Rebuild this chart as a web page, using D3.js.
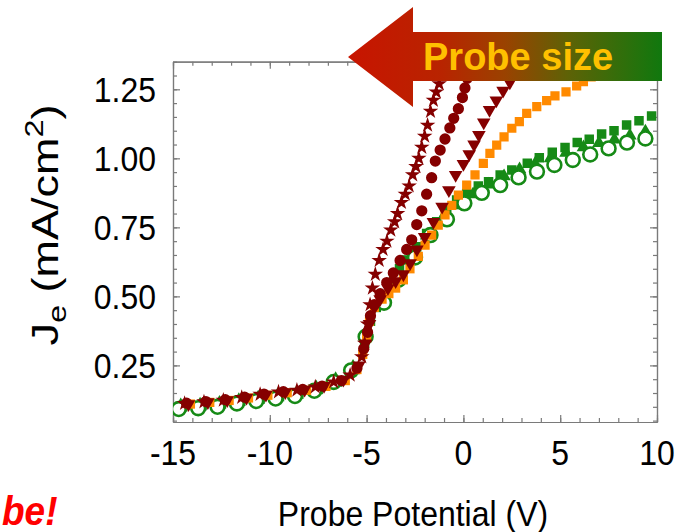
<!DOCTYPE html>
<html lang="en">
  <head>
    <meta charset="utf-8" />
    <title>Probe size</title>
    <script src="https://d3js.org/d3.v7.min.js"></script>
    <style>
      body {
        margin: 0;
        background: white;
      }
      text {
        font-family: "Liberation Sans", Arial, sans-serif;
      }
      .frame path,
      .frame line {
        stroke: #7a7a7a;
        stroke-width: 1.2;
      }
      .tick-label {
        font-size: 32px;
        fill: black;
      }
      .label {
        font-size: 32px;
        fill: black;
      }
    </style>
  </head>
  <body>
    <svg width="677" height="532"></svg>
    <script type="text/javascript">
      // [potential (V), current density (mA/cm2)]
      const stars = [
        [-14.4, 0.112], [-13.4, 0.118], [-12.4, 0.124], [-11.45, 0.134], [-10.5, 0.145],
        [-9.55, 0.154], [-8.6, 0.16], [-7.65, 0.172], [-6.7, 0.19], [-5.85, 0.215],
        [-5.25, 0.281], [-5.1, 0.33], [-4.95, 0.4], [-4.82, 0.47], [-4.7, 0.53],
        [-4.55, 0.58], [-4.35, 0.63], [-4.15, 0.67], [-3.95, 0.7], [-3.75, 0.74],
        [-3.55, 0.77], [-3.4, 0.8], [-3.2, 0.84], [-3.0, 0.87], [-2.8, 0.9],
        [-2.62, 0.94], [-2.45, 0.97], [-2.3, 1.0], [-2.15, 1.04], [-2.0, 1.08],
        [-1.85, 1.12], [-1.7, 1.17], [-1.55, 1.21], [-1.4, 1.24], [-1.25, 1.27],
        [-1.1, 1.31], [-0.95, 1.35]
      ];
      const hexagons = [
        [-14.3, 0.113], [-13.3, 0.119], [-12.3, 0.126], [-11.3, 0.135], [-10.3, 0.146],
        [-9.3, 0.155], [-8.3, 0.163], [-7.3, 0.175], [-6.3, 0.195], [-5.5, 0.24],
        [-5.15, 0.31], [-4.95, 0.37], [-4.8, 0.43], [-4.6, 0.47], [-4.3, 0.51],
        [-3.96, 0.55], [-3.62, 0.585], [-3.27, 0.63], [-2.93, 0.67], [-2.67, 0.705],
        [-2.41, 0.76], [-2.15, 0.81], [-1.9, 0.87], [-1.64, 0.93], [-1.45, 0.99],
        [-1.2, 1.03], [-0.95, 1.07], [-0.7, 1.11], [-0.5, 1.145], [-0.26, 1.18],
        [-0.05, 1.22], [0.08, 1.255], [0.2, 1.29], [0.3, 1.33]
      ];
      const downTriangles = [
        [-14.2, 0.11], [-13.2, 0.117], [-12.2, 0.124], [-11.2, 0.133], [-10.2, 0.144],
        [-9.2, 0.153], [-8.2, 0.162], [-7.2, 0.176], [-6.2, 0.198], [-5.4, 0.25],
        [-5.05, 0.33], [-4.85, 0.4], [-4.6, 0.46], [-4.3, 0.49], [-3.9, 0.53],
        [-3.5, 0.555], [-3.1, 0.58], [-2.75, 0.62], [-2.4, 0.67], [-2.0, 0.715],
        [-1.55, 0.77], [-1.1, 0.825], [-0.75, 0.885], [-0.4, 0.94], [0.0, 0.98],
        [0.3, 1.015], [0.55, 1.05], [0.8, 1.085], [1.05, 1.13], [1.35, 1.175],
        [1.7, 1.21], [2.05, 1.245], [2.4, 1.275], [2.75, 1.31], [3.1, 1.345]
      ];
      const orangeSquares = [
        [-14.1, 0.11], [-13.1, 0.116], [-12.1, 0.123], [-11.1, 0.132], [-10.1, 0.142],
        [-9.1, 0.151], [-8.1, 0.16], [-7.1, 0.174], [-6.1, 0.195], [-5.5, 0.235],
        [-5.2, 0.29], [-5.0, 0.35], [-4.85, 0.41], [-4.6, 0.46], [-4.2, 0.49],
        [-3.85, 0.51], [-3.5, 0.53], [-3.1, 0.56], [-2.76, 0.6], [-2.33, 0.645],
        [-1.98, 0.686], [-1.64, 0.722], [-1.3, 0.758], [-0.95, 0.795], [-0.6, 0.83],
        [-0.26, 0.867], [0.17, 0.903], [0.6, 0.94], [1.03, 0.982], [1.37, 1.018],
        [1.72, 1.048], [2.1, 1.078], [2.5, 1.109], [2.89, 1.133], [3.27, 1.163],
        [3.79, 1.187], [4.3, 1.209], [4.73, 1.226], [5.3, 1.241], [5.85, 1.262],
        [6.2, 1.278], [6.6, 1.295], [7.0, 1.31], [7.4, 1.325]
      ];
      const greenSquares = [
        [-14.5, 0.1], [-13.5, 0.104], [-12.5, 0.11], [-11.5, 0.12], [-10.5, 0.128],
        [-9.5, 0.137], [-8.5, 0.146], [-7.5, 0.163], [-6.5, 0.19], [-5.6, 0.235],
        [-5.1, 0.33], [-4.8, 0.41], [-4.5, 0.46], [-4.1, 0.5], [-3.6, 0.565],
        [-3.3, 0.6], [-2.93, 0.632], [-2.41, 0.68], [-1.9, 0.728], [-1.38, 0.77],
        [-0.86, 0.813], [-0.35, 0.849], [0.17, 0.873], [0.77, 0.9], [1.3, 0.915],
        [1.9, 0.94], [2.5, 0.958], [3.3, 0.982], [3.92, 1.002], [4.59, 1.022],
        [5.25, 1.039], [5.88, 1.057], [6.5, 1.069], [7.14, 1.088], [7.78, 1.1],
        [8.43, 1.121], [9.07, 1.136], [9.72, 1.153]
      ];
      const upTriangles = [
        [-14.6, 0.105], [-13.6, 0.108], [-12.6, 0.114], [-11.6, 0.124], [-10.6, 0.133],
        [-9.6, 0.142], [-8.6, 0.152], [-7.6, 0.17], [-6.6, 0.2], [-5.7, 0.245],
        [-5.1, 0.36], [-4.3, 0.47], [-3.5, 0.56], [-2.7, 0.64], [-1.9, 0.72],
        [-1.1, 0.78], [-0.3, 0.83], [0.5, 0.87], [1.3, 0.905], [2.1, 0.935],
        [2.9, 0.96], [3.7, 0.98], [4.5, 1.0], [5.3, 1.02], [6.2, 1.04],
        [7.0, 1.055], [7.8, 1.068], [8.6, 1.082], [9.4, 1.097]
      ];
      const openCircles = [
        [-14.7, 0.092], [-13.7, 0.095], [-12.7, 0.1], [-11.7, 0.112], [-10.7, 0.121],
        [-9.7, 0.13], [-8.7, 0.139], [-7.7, 0.158], [-6.7, 0.19], [-5.8, 0.232],
        [-5.05, 0.354], [-4.1, 0.477], [-3.35, 0.56], [-2.5, 0.641], [-1.7, 0.722],
        [-0.85, 0.779], [0.05, 0.837], [0.95, 0.875], [1.9, 0.903], [2.85, 0.931],
        [3.8, 0.952], [4.7, 0.976], [5.65, 0.994], [6.55, 1.014], [7.5, 1.036],
        [8.45, 1.057], [9.4, 1.072]
      ];

      const xTicks = [-15, -10, -5, 0, 5, 10];
      const yTicks = [0.25, 0.5, 0.75, 1.0, 1.25];

      const svg = d3.select("svg");
      const plot = { left: 173, right: 657, top: 61.7, bottom: 422 };

      const x = d3.scaleLinear().domain([-15, 10]).range([plot.left, plot.right]);
      const y = d3.scaleLinear().domain([0.045, 1.35]).range([plot.bottom, plot.top]);

      const darkRed = "#850000",
        green = "#168a16",
        orange = "#ff8a00";

      svg.append("defs")
        .append("clipPath")
        .attr("id", "plot-clip")
        .append("rect")
        .attr("x", plot.left)
        .attr("y", plot.top)
        .attr("width", plot.right - plot.left)
        .attr("height", plot.bottom - plot.top);

      // Frame with inward ticks on all four sides
      const frame = svg.append("g").attr("class", "frame");
      const minorX = d3.range(-15, 11, 1);
      const minorY = d3.range(0.05, 1.36, 0.05);

      const addAxis = (axis, tx, ty) =>
        frame.append("g").attr("transform", `translate(${tx},${ty})`).call(axis)
          .call((g) => g.selectAll("text").remove());

      addAxis(d3.axisBottom(x).tickValues(minorX).tickSizeInner(-4).tickSizeOuter(0), 0, plot.bottom);
      addAxis(d3.axisBottom(x).tickValues(xTicks).tickSizeInner(-7).tickSizeOuter(0), 0, plot.bottom);
      addAxis(d3.axisTop(x).tickValues(minorX).tickSizeInner(-4).tickSizeOuter(0), 0, plot.top);
      addAxis(d3.axisTop(x).tickValues(xTicks).tickSizeInner(-7).tickSizeOuter(0), 0, plot.top);
      addAxis(d3.axisLeft(y).tickValues(minorY).tickSizeInner(-4).tickSizeOuter(0), plot.left, 0);
      addAxis(d3.axisLeft(y).tickValues(yTicks).tickSizeInner(-7).tickSizeOuter(0), plot.left, 0);
      addAxis(d3.axisRight(y).tickValues(minorY).tickSizeInner(-4).tickSizeOuter(0), plot.right, 0);
      addAxis(d3.axisRight(y).tickValues(yTicks).tickSizeInner(-7).tickSizeOuter(0), plot.right, 0);

      // Series, drawn from back to front
      const marks = svg.append("g").attr("clip-path", "url(#plot-clip)");

      function drawSeries(data, symbolType, size, fill, stroke, strokeWidth, rotate) {
        marks.append("g")
          .selectAll("path")
          .data(data)
          .join("path")
          .attr("transform", (d) => `translate(${x(d[0])},${y(d[1])}) rotate(${rotate || 0})`)
          .attr("d", d3.symbol().type(symbolType).size(size))
          .attr("fill", fill)
          .attr("stroke", stroke || "none")
          .attr("stroke-width", strokeWidth || 0);
      }

      drawSeries(greenSquares, d3.symbolSquare, 90, green);
      drawSeries(upTriangles, d3.symbolTriangle, 80, green);
      drawSeries(openCircles, d3.symbolCircle, 150, "white", green, 2.6);
      drawSeries(orangeSquares, d3.symbolSquare, 85, orange);
      drawSeries(downTriangles, d3.symbolTriangle, 80, darkRed, null, 0, 180);
      drawSeries(hexagons, d3.symbolCircle, 100, darkRed);
      drawSeries(stars, d3.symbolStar, 75, darkRed);

      // Tick labels
      svg.append("g")
        .selectAll("g")
        .data(xTicks)
        .join("g")
        .attr("transform", (d) => `translate(${x(d)},465) scale(1,1.12)`)
        .append("text")
        .attr("class", "tick-label")
        .attr("text-anchor", "middle")
        .text((d) => d);

      svg.append("g")
        .selectAll("g")
        .data(yTicks)
        .join("g")
        .attr("transform", (d) => `translate(156,${y(d)}) scale(1,1.12)`)
        .append("text")
        .attr("class", "tick-label")
        .attr("text-anchor", "end")
        .attr("dy", "0.36em")
        .text((d) => d3.format(".2f")(d));

      // Axis titles
      svg.append("g")
        .attr("transform", "translate(413,526) scale(1,1.12)")
        .append("text")
        .attr("class", "label")
        .attr("text-anchor", "middle")
        .text("Probe Potential (V)");

      const yLabel = svg.append("g")
        .attr("transform", "translate(58,225) rotate(-90) scale(1.25,1)")
        .append("text")
        .attr("class", "label")
        .attr("text-anchor", "middle")
        .style("font-size", "36px");
      yLabel.append("tspan").text("J");
      yLabel.append("tspan").attr("dy", 8).style("font-size", "26px").text("e");
      yLabel.append("tspan").attr("dy", -8).text(" (mA/cm");
      yLabel.append("tspan").attr("dy", -15).style("font-size", "26px").text("2");
      yLabel.append("tspan").attr("dy", 15).text(")");

      // Probe size arrow
      const grad = svg.select("defs")
        .append("linearGradient")
        .attr("id", "arrow-grad")
        .attr("gradientUnits", "userSpaceOnUse")
        .attr("x1", 348).attr("x2", 662)
        .attr("y1", 0).attr("y2", 0);
      const stops = [
        [0, "#c81400"], [0.3, "#b82400"], [0.5, "#9a4200"],
        [0.7, "#5e6206"], [1, "#10780e"]
      ];
      grad.selectAll("stop")
        .data(stops)
        .join("stop")
        .attr("offset", (d) => d[0])
        .attr("stop-color", (d) => d[1]);

      svg.append("path")
        .attr("d", "M348,57 L413,7 L413,32 L662,32 L662,81 L413,81 L413,107 Z")
        .attr("fill", "url(#arrow-grad)");

      svg.append("text")
        .attr("x", 423)
        .attr("y", 70)
        .style("font-size", "38px")
        .style("font-weight", "bold")
        .attr("fill", "#ffc000")
        .text("Probe size");

      // Leftover slide text at the left edge
      svg.append("g")
        .attr("transform", "translate(2,525) scale(1,1.1)")
        .append("text")
        .style("font-size", "37px")
        .style("font-weight", "bold")
        .style("font-style", "italic")
        .attr("fill", "#ff0000")
        .text("be!");
    </script>
  </body>
</html>
